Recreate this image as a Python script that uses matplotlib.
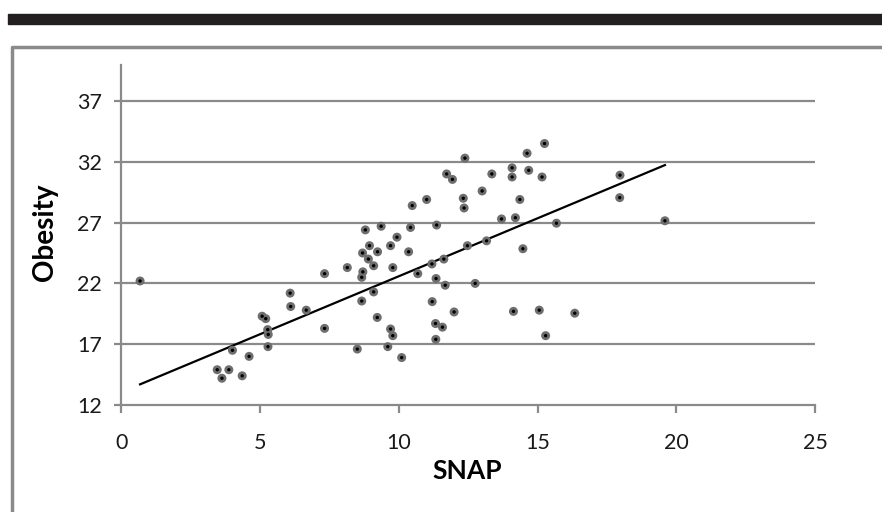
import numpy as np
import matplotlib.pyplot as plt
from matplotlib.patches import Rectangle
from matplotlib.lines import Line2D

# SNAP vs obesity
snap = [0.67, 3.45, 3.62, 3.87, 4.0, 4.35, 4.6, 5.07, 5.2, 5.28, 5.29, 5.27,
        6.08, 6.1, 6.66, 7.32, 7.32, 8.14, 8.5, 8.69, 8.66, 8.66, 8.7, 8.79,
        8.9, 8.94, 9.09, 9.09, 9.22, 9.23, 9.36, 9.6, 9.7, 9.7, 9.78, 9.78,
        9.93, 10.1, 10.35, 10.42, 10.48, 10.68, 11.0, 11.19, 11.2, 11.32,
        11.33, 11.34, 11.36, 11.57, 11.62, 11.67, 11.72, 11.93, 11.99, 12.32,
        12.35, 12.38, 12.47, 12.75, 13.0, 13.16, 13.35, 13.7, 14.08, 14.08,
        14.13, 14.2, 14.36, 14.47, 14.62, 14.68, 15.06, 15.16, 15.25, 15.29,
        15.68, 16.34, 17.96, 17.97, 19.59]
obesity = [22.2, 14.9, 14.2, 14.9, 16.5, 14.4, 16.0, 19.3, 19.1, 16.8, 17.8, 18.2,
           21.2, 20.1, 19.8, 22.8, 18.3, 23.3, 16.6, 24.5, 22.5, 20.55, 22.95, 26.4,
           24.0, 25.1, 23.45, 21.3, 19.2, 24.6, 26.7, 16.8, 25.1, 18.25, 23.3, 17.7,
           25.8, 15.9, 24.6, 26.6, 28.4, 22.8, 28.9, 23.6, 20.5, 18.7,
           17.4, 22.4, 26.8, 18.4, 24.0, 21.85, 31.0, 30.55, 19.65, 29.0,
           28.2, 32.3, 25.1, 22.0, 29.6, 25.5, 31.0, 27.3, 31.5, 30.75,
           19.7, 27.4, 28.9, 24.85, 32.7, 31.3, 19.8, 30.75, 33.5, 17.7,
           26.95, 19.55, 29.05, 30.9, 27.15]
x_ticks = [0, 5, 10, 15, 20, 25]
y_ticks = [12, 17, 22, 27, 32, 37]

# trend line as drawn on the chart
trend_slope = 0.953
trend_intercept = 13.06

plt.rcParams['font.family'] = ['Lato', 'DejaVu Sans']

fig = plt.figure(figsize=(8.82, 5.12), dpi=100)

# black bar and grey frame around the chart
fig.patches.append(Rectangle((8/882, 1-23.5/512), 1, 10/512, transform=fig.transFigure,
                             color='#231f20', zorder=0))
fig.lines.append(Line2D([11.5/882, 11.5/882, 1.0],
                        [0.0, 1-47/512, 1-47/512],
                        transform=fig.transFigure, color='#8a8a8a', lw=2.5))

ax = fig.add_axes([121.5/882, 1-405/512, (815-121.5)/882, (405-64.5)/512])
ax.set_xlim(0, 25)
ax.set_ylim(12, 40)
ax.set_xticks(x_ticks)
ax.set_yticks(y_ticks)
for y in y_ticks[1:]:
    ax.axhline(y, color='#8a8a8a', lw=1.6, zorder=1)

for side in ['top', 'right']:
    ax.spines[side].set_visible(False)
for side in ['left', 'bottom']:
    ax.spines[side].set_color('#8a8a8a')
    ax.spines[side].set_linewidth(1.6)
ax.tick_params(axis='both', colors='#8a8a8a', width=1.6, labelcolor='#1a1a1a',
               labelsize=15.5)
ax.tick_params(axis='x', length=6, pad=14)
ax.tick_params(axis='y', length=5, pad=9)

xs = np.array([min(snap), max(snap)])
ax.plot(xs, trend_slope*xs + trend_intercept, color='black', lw=1.6, zorder=3)

ax.scatter(snap, obesity, s=42, color='#6e6e6e', edgecolors='none', zorder=4)
ax.scatter(snap, obesity, s=6, color='black', edgecolors='none', zorder=5)

ax.set_xlabel('SNAP', fontsize=19, fontweight='bold', va='center')
ax.xaxis.set_label_coords(0.498, -0.195)
ax.set_ylabel('Obesity', fontsize=20, fontweight='bold', va='center')
ax.yaxis.set_label_coords(-0.110, 0.508)

fig.savefig('out.png', dpi=100)
